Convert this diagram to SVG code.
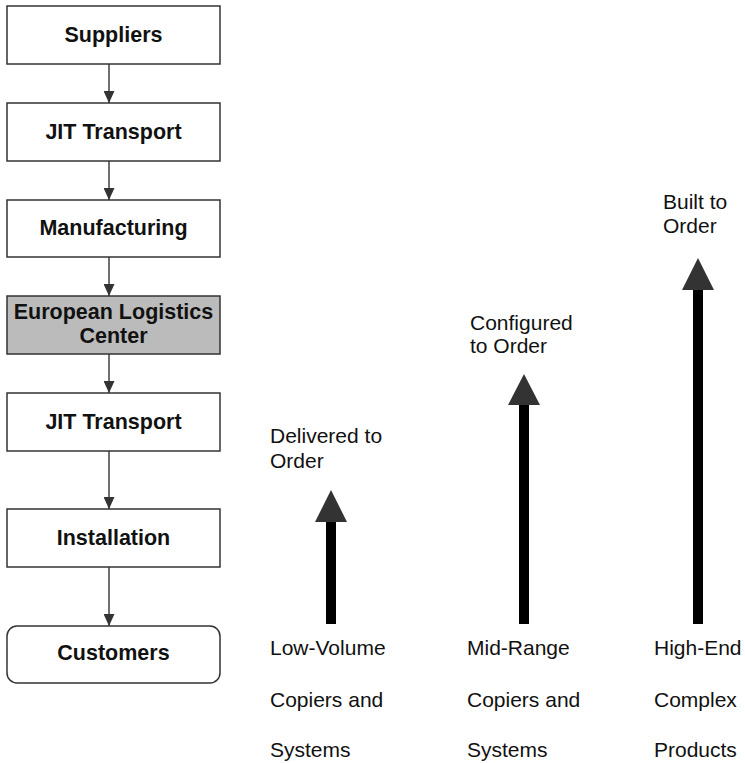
<svg xmlns="http://www.w3.org/2000/svg" width="745" height="763" viewBox="0 0 745 763">
  <style>
    .box { fill: #ffffff; stroke: #333333; stroke-width: 1.5; }
    .hub { fill: #bbbbbb; }
    .lbl { font-family: "Liberation Sans", Arial, sans-serif; font-size: 21.5px; font-weight: bold; fill: #111111; text-anchor: middle; }
    .note { font-family: "Liberation Sans", Arial, sans-serif; font-size: 21px; fill: #111111; }
    .link { stroke: #333333; stroke-width: 1.4; fill: none; }
    .shaft { fill: #000000; }
    .head { fill: #333333; }
  </style>
  <defs>
    <marker id="tip" viewBox="0 0 12 11" refX="12" refY="5.5" markerWidth="12" markerHeight="11" markerUnits="userSpaceOnUse" orient="auto">
      <path d="M0,0 L12,5.5 L0,11 Z" fill="#333333"/>
    </marker>
  </defs>

  <!-- supply chain flow -->
  <g id="suppliers">
    <rect class="box" x="7" y="6" width="213" height="58"/>
    <text class="lbl" x="113.5" y="42">Suppliers</text>
  </g>
  <g id="jit-transport-in">
    <rect class="box" x="7" y="103" width="213" height="58"/>
    <text class="lbl" x="113.5" y="139">JIT Transport</text>
  </g>
  <g id="manufacturing">
    <rect class="box" x="7" y="200" width="213" height="57"/>
    <text class="lbl" x="113.5" y="235">Manufacturing</text>
  </g>
  <g id="logistics-center">
    <rect class="box hub" x="7" y="296" width="213" height="58"/>
    <text class="lbl" x="113.5" y="319">European Logistics</text>
    <text class="lbl" x="113.5" y="343">Center</text>
  </g>
  <g id="jit-transport-out">
    <rect class="box" x="7" y="393" width="213" height="58"/>
    <text class="lbl" x="113.5" y="429">JIT Transport</text>
  </g>
  <g id="installation">
    <rect class="box" x="7" y="509" width="213" height="58"/>
    <text class="lbl" x="113.5" y="545">Installation</text>
  </g>
  <g id="customers">
    <rect class="box" x="7" y="626" width="213" height="57" rx="10" ry="10"/>
    <text class="lbl" x="113.5" y="660">Customers</text>
  </g>

  <g id="connectors">
    <line class="link" x1="109" y1="64" x2="109" y2="103" marker-end="url(#tip)"/>
    <line class="link" x1="109" y1="161" x2="109" y2="200" marker-end="url(#tip)"/>
    <line class="link" x1="109" y1="257" x2="109" y2="296" marker-end="url(#tip)"/>
    <line class="link" x1="109" y1="354" x2="109" y2="393" marker-end="url(#tip)"/>
    <line class="link" x1="109" y1="451" x2="109" y2="509" marker-end="url(#tip)"/>
    <line class="link" x1="109" y1="567" x2="109" y2="626" marker-end="url(#tip)"/>
  </g>

  <!-- order strategy arrows -->
  <g id="delivered-to-order">
    <rect class="shaft" x="326" y="521" width="10" height="103"/>
    <polygon class="head" points="331,490 347,522 315,522"/>
    <text class="note" x="270" y="443">Delivered to</text>
    <text class="note" x="270" y="468">Order</text>
    <text class="note" x="270" y="655">Low-Volume</text>
    <text class="note" x="270" y="707">Copiers and</text>
    <text class="note" x="270" y="757">Systems</text>
  </g>
  <g id="configured-to-order">
    <rect class="shaft" x="519" y="404" width="10" height="220"/>
    <polygon class="head" points="524,374 540,405 508,405"/>
    <text class="note" x="470" y="330">Configured</text>
    <text class="note" x="470" y="353">to Order</text>
    <text class="note" x="467" y="655">Mid-Range</text>
    <text class="note" x="467" y="707">Copiers and</text>
    <text class="note" x="467" y="757">Systems</text>
  </g>
  <g id="built-to-order">
    <rect class="shaft" x="693" y="289" width="10" height="335"/>
    <polygon class="head" points="698,258 714,290 682,290"/>
    <text class="note" x="663" y="209">Built to</text>
    <text class="note" x="663" y="233">Order</text>
    <text class="note" x="654" y="655">High-End</text>
    <text class="note" x="654" y="707">Complex</text>
    <text class="note" x="654" y="757">Products</text>
  </g>
</svg>
